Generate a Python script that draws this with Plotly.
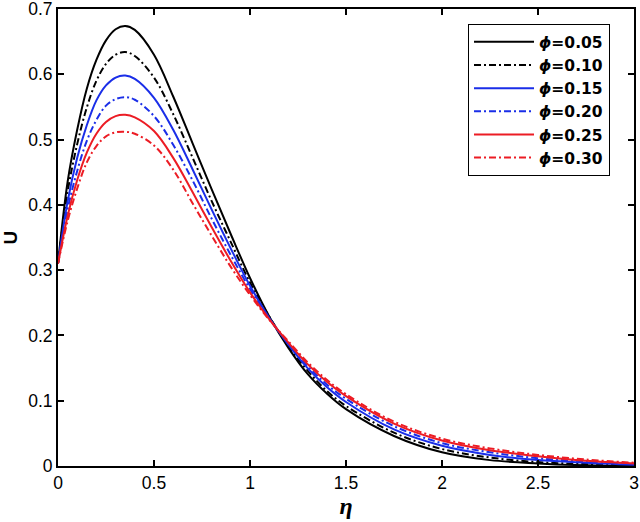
import plotly.graph_objects as go

eta = [0, 0.05, 0.1, 0.15, 0.2, 0.25, 0.3, 0.35, 0.4, 0.5, 0.6, 0.7, 0.8, 0.9,
       1.0, 1.1, 1.2, 1.3, 1.4, 1.5, 1.75, 2.0, 2.25, 2.5, 2.75, 3.0]

u_005 = [0.31, 0.435, 0.515, 0.578, 0.622, 0.652, 0.669, 0.674, 0.668, 0.630, 0.566, 0.495, 0.424,
         0.355, 0.288, 0.229, 0.181, 0.141, 0.111, 0.087, 0.046, 0.021, 0.009, 0.004, 0.001, 0.000]
u_010 = [0.31, 0.420, 0.493, 0.549, 0.590, 0.616, 0.630, 0.634, 0.628, 0.595, 0.539, 0.473, 0.406,
         0.343, 0.281, 0.229, 0.184, 0.146, 0.115, 0.092, 0.051, 0.026, 0.013, 0.006, 0.003, 0.001]
u_015 = [0.31, 0.405, 0.472, 0.522, 0.560, 0.583, 0.595, 0.598, 0.593, 0.564, 0.515, 0.455, 0.393,
         0.333, 0.276, 0.227, 0.186, 0.150, 0.121, 0.098, 0.056, 0.031, 0.017, 0.009, 0.005, 0.002]
u_020 = [0.31, 0.393, 0.452, 0.498, 0.530, 0.552, 0.562, 0.565, 0.561, 0.536, 0.492, 0.438, 0.379,
         0.323, 0.271, 0.226, 0.187, 0.153, 0.125, 0.103, 0.061, 0.035, 0.021, 0.012, 0.007, 0.003]
u_025 = [0.31, 0.383, 0.438, 0.480, 0.509, 0.527, 0.536, 0.538, 0.534, 0.513, 0.472, 0.420, 0.366,
         0.314, 0.266, 0.225, 0.189, 0.156, 0.129, 0.107, 0.065, 0.039, 0.024, 0.015, 0.008, 0.004]
u_030 = [0.31, 0.375, 0.425, 0.465, 0.490, 0.505, 0.511, 0.512, 0.509, 0.491, 0.454, 0.403, 0.353,
         0.305, 0.262, 0.224, 0.191, 0.159, 0.132, 0.110, 0.068, 0.042, 0.027, 0.017, 0.010, 0.005]

phi_labels = ["0.05", "0.10", "0.15", "0.20", "0.25", "0.30"]
series = [u_005, u_010, u_015, u_020, u_025, u_030]
colors = ["black", "black", "#1a2ee8", "#1a2ee8", "#ec1c24", "#ec1c24"]
dashes = ["solid", "7px,3px,2px,3px"] * 3

fig = go.Figure()
for lab, u, c, d in zip(phi_labels, series, colors, dashes):
    fig.add_trace(go.Scatter(
        x=eta, y=u, mode="lines", line_shape="spline",
        line=dict(color=c, width=2, dash=d),
        name="<b><i>ϕ</i>=" + lab + "</b>",
    ))

axis_common = dict(
    showline=True, linecolor="black", linewidth=2, mirror="ticks",
    ticks="inside", ticklen=6, tickwidth=1.5, tickcolor="black",
    showgrid=False, zeroline=False, automargin=False,
    ticklabeloverflow="allow",
    tickfont=dict(family="Liberation Sans, Arial", size=17.5, color="black"),
)

fig.update_layout(
    width=640, height=522,
    margin=dict(l=58, r=6, t=9, b=56),
    plot_bgcolor="white", paper_bgcolor="white",
    xaxis=dict(range=[0, 3], tickvals=[0, 0.5, 1, 1.5, 2, 2.5, 3],
               ticktext=["0", "0.5", "1", "1.5", "2", "2.5", "3"],
               title=dict(text="<b><i>η</i></b>", standoff=2,
                          font=dict(family="Liberation Serif", size=24, color="black")),
               **axis_common),
    yaxis=dict(range=[0, 0.7], tickvals=[0, 0.1, 0.2, 0.3, 0.4, 0.5, 0.6, 0.7],
               ticktext=["0", "0.1", "0.2", "0.3", "0.4", "0.5", "0.6", "0.7"],
               title=dict(text="<b>U</b>", standoff=8,
                          font=dict(family="Liberation Sans, Arial", size=19, color="black")),
               **axis_common),
    legend=dict(x=0.958, y=0.967, xanchor="right", yanchor="top",
                bgcolor="white", bordercolor="black", borderwidth=1.2,
                font=dict(family="DejaVu Sans", size=15.5, color="black"),
                tracegroupgap=0, itemwidth=60),
    showlegend=True,
)

# page body has a default margin; drop it so the figure sits at the top-left corner
fig.write_html("out.html", config={"displayModeBar": False},
               post_script="document.body.style.margin='0';")
